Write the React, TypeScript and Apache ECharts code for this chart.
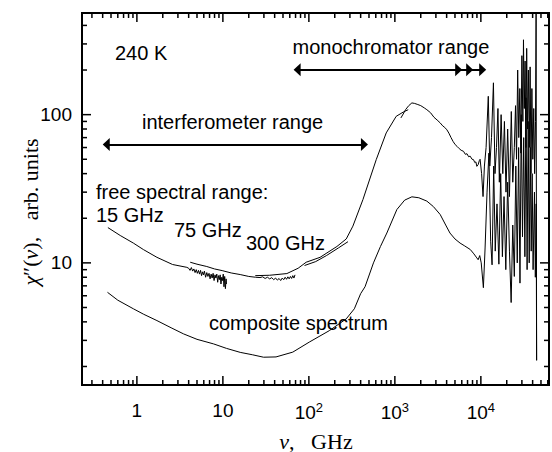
import React, { useEffect, useRef } from 'react';
import * as echarts from 'echarts';

// axis ranges
const X_MIN = 0.23;
const X_MAX = 62000;
const Y_MIN = 1.5;
const Y_MAX = 485;

// tick positions
const X_MAJOR = [1, 10, 100, 1000, 10000];
const X_MINOR = [0.3, 0.4, 0.5, 0.6, 0.7, 0.8, 0.9, 2, 3, 4, 5, 6, 7, 8, 9, 20, 30, 40, 50, 60, 70, 80, 90,
  200, 300, 400, 500, 600, 700, 800, 900, 2000, 3000, 4000, 5000, 6000, 7000, 8000, 9000,
  20000, 30000, 40000, 50000, 60000];
const Y_MAJOR = [10, 100];
const Y_MINOR = [2, 3, 4, 5, 6, 7, 8, 9, 20, 30, 40, 50, 60, 70, 80, 90, 200, 300, 400];

// free spectral range 15 GHz (interferometer)
const fsr15: number[][] = [
  [0.46, 17.3], [0.64, 15.3], [0.91, 13.6], [1.19, 12.3], [1.71, 10.9], [2.6, 9.75], [3.81, 9.33],
  [4.0, 9.2], [4.15, 8.9], [4.3, 9.3], [4.45, 8.8], [4.6, 9.1], [4.75, 8.6], [4.9, 9.0], [5.05, 8.5],
  [5.2, 8.9], [5.35, 8.4], [5.5, 8.9], [5.65, 8.2], [5.8, 8.7], [5.95, 8.3], [6.1, 8.8], [6.3, 8.0],
  [6.5, 8.6], [6.7, 8.1], [6.9, 8.5], [7.1, 7.8], [7.3, 8.4], [7.5, 7.9], [7.7, 8.5], [7.9, 7.6],
  [8.1, 8.3], [8.3, 7.9], [8.5, 8.4], [8.7, 7.4], [8.9, 8.2], [9.1, 7.7], [9.3, 8.3], [9.5, 7.2],
  [9.7, 8.0], [9.9, 7.6], [10.1, 8.4], [10.3, 6.9], [10.5, 8.1], [10.7, 6.7], [10.9, 7.8], [11.0, 7.2],
];

// free spectral range 75 GHz
const fsr75: number[][] = [
  [4.17, 10.1], [5, 9.8], [6.5, 9.45], [8, 9.1], [9.8, 8.87], [12.5, 8.55], [15.9, 8.34], [20, 8.1],
  [24, 8.0], [27, 7.96], [29, 8.05], [31, 7.85], [33, 8.0], [35, 7.8], [37, 7.95], [39, 7.7],
  [41, 7.9], [43, 7.65], [45, 7.85], [47, 7.6], [49, 7.9], [51, 7.7], [53, 8.0], [55, 7.75],
  [57, 8.05], [59, 7.8], [61, 8.1], [63, 7.85], [65, 8.2], [67, 7.9], [69, 8.3],
];

// free spectral range 300 GHz
const fsr300: number[][] = [
  [23.8, 8.2], [35, 8.25], [55.5, 8.47], [75, 9.2], [93, 10.1], [135, 10.9], [212, 12.9],
  [272, 14.5], [325, 17.7], [425, 26.7], [607, 49.7], [793, 75.3], [1036, 97.4], [1250, 104], [1430, 108],
];

// short overlapping segment
const fsrShort: number[][] = [
  [89, 9.6], [120, 10.2], [160, 11.2], [220, 12.6], [285, 13.9],
];

// monochromator part of the 240 K spectrum
const mono: number[][] = [
  [1175, 95], [1250, 101], [1330, 108], [1450, 115], [1577, 120], [1700, 119], [1850, 117], [2000, 115],
  [2200, 111], [2355, 108], [2600, 103], [2850, 96], [3100, 92], [3365, 88], [3600, 84], [3800, 82],
  [4027, 79], [4250, 75], [4500, 70], [4750, 66], [5025, 62.8], [5300, 61], [5600, 59], [5900, 57.5],
  [6280, 56.6], [6600, 54], [6900, 54.5], [7200, 52], [7500, 52.5], [7900, 50], [8210, 49.7],
  [8500, 47.5], [8750, 48], [8980, 44.8], [9300, 46], [9600, 49], [9800, 50], [10200, 40],
  [10600, 28], [11000, 45], [11500, 60], [12200, 133], [12700, 45], [13300, 70], [14000, 164],
  [14600, 40], [15200, 60], [15800, 110], [16400, 35], [17200, 100], [18000, 40], [18800, 90],
  [19600, 30], [20500, 80], [21500, 28], [22600, 105], [23500, 35], [24500, 60], [25300, 115],
  [26000, 50], [26800, 200], [27600, 70], [28400, 150], [29200, 55], [30000, 250], [30800, 90],
  [31300, 320], [32000, 110], [32700, 230], [33400, 60], [34100, 280], [34900, 80], [35700, 200],
  [36600, 60], [37400, 210], [38300, 40], [39200, 150], [40200, 50], [41200, 110], [42200, 40],
  [43200, 90], [43900, 480], [44500, 2.2],
];

// composite spectrum
const composite: number[][] = [
  [0.455, 6.33], [0.6, 5.6], [0.91, 4.9], [1.2, 4.5], [1.71, 4.08], [2.5, 3.65], [3.48, 3.32],
  [5, 3.05], [7.8, 2.84], [11, 2.65], [15.9, 2.49], [22, 2.4], [29.7, 2.31], [41.5, 2.32],
  [65, 2.5], [101, 2.92], [173, 3.49], [272, 4.19], [338, 4.9], [400, 6.2], [450, 6.9],
  [564, 10], [680, 12.9], [807, 15.9], [1055, 22.9], [1300, 26.5], [1577, 27.9], [1900, 27.5],
  [2355, 26.1], [2800, 24], [3365, 21.2], [3900, 18], [4370, 15.9], [5000, 14.5], [5730, 13.6],
  [6500, 13], [7540, 12.3], [8300, 11.5], [8980, 10.8], [9300, 10.5], [9700, 11.2], [10100, 10],
  [10700, 6.8], [11200, 12.6], [11800, 30], [12400, 55], [13000, 14], [13500, 9.7], [14100, 45],
  [14700, 12], [15400, 25], [16200, 9.8], [17000, 40], [17800, 11], [18600, 28], [19500, 9],
  [20500, 35], [21500, 12], [22500, 5.4], [23500, 18], [24500, 8.1], [25500, 45], [26500, 10],
  [27500, 60], [28500, 7.3], [29500, 100], [30500, 15], [31500, 70], [32500, 11], [33500, 130],
  [34500, 9], [35500, 90], [36500, 10], [37500, 60], [38500, 12], [39500, 40], [40500, 9],
  [42000, 30], [43000, 8], [44000, 25], [44500, 2.2],
];

// range arrows (GHz, y level)
const interfArrow = { from: 0.44, to: 443, y: 62.8 };
const monoArrow = { from: 73, heads: [5520, 7410, 10500], y: 201 };

const SANS = '"Liberation Sans", Arial, Helvetica, sans-serif';
const SERIF = '"Liberation Serif", "Times New Roman", serif';

function isDecade(v: number): boolean {
  const e = Math.log10(v);
  return Math.abs(e - Math.round(e)) < 1e-6;
}
function xLabel(v: number): string {
  if (!isDecade(v)) return '';
  const r = Math.round(Math.log10(v));
  if (r <= 1) return String(Math.round(v));
  return '{a|10}{b|' + r + '}';
}
function yLabel(v: number): string {
  if (!isDecade(v)) return '';
  return String(Math.round(v));
}

const xTickData = [...X_MAJOR.map((v) => [v, Y_MIN, 9]), ...X_MINOR.map((v) => [v, Y_MIN, 5])];
const yTickData = [...Y_MAJOR.map((v) => [X_MIN, v, 9]), ...Y_MINOR.map((v) => [X_MIN, v, 5])];

const lineSeries = (data: number[][]) => ({
  type: 'line',
  data,
  showSymbol: false,
  symbol: 'none',
  lineStyle: { color: '#000', width: 1 },
  silent: true,
});

const textEl = (text: string, x: number, y: number) => ({
  type: 'text', x, y, silent: true,
  style: { text, fontSize: 20, fontFamily: SANS, fill: '#000', align: 'left', verticalAlign: 'middle' },
});

export default function App() {
  const ref = useRef<HTMLDivElement>(null);
  useEffect(() => {
    const chart = echarts.init(ref.current!, null, { renderer: 'svg' });
    const option: any = {
      animation: false,
      backgroundColor: '#fff',
      grid: { left: 82, right: 3, top: 13, bottom: 67, show: true, borderColor: '#000', borderWidth: 2 },
      xAxis: {
        type: 'log', logBase: 10, min: X_MIN, max: X_MAX,
        axisLine: { show: true, onZero: false, lineStyle: { color: '#000', width: 2 } },
        axisTick: { show: false },
        splitLine: { show: false },
        axisLabel: {
          show: true, margin: 16, formatter: xLabel, color: '#000', fontSize: 19, fontFamily: SANS,
          showMinLabel: false, showMaxLabel: false,
          rich: {
            a: { fontSize: 19, fontFamily: SANS, color: '#000' },
            b: { fontSize: 13, fontFamily: SANS, color: '#000', padding: [0, 0, 10, 0] },
          },
        },
      },
      yAxis: {
        type: 'log', logBase: 10, min: Y_MIN, max: Y_MAX,
        axisLine: { show: true, onZero: false, lineStyle: { color: '#000', width: 2 } },
        axisTick: { show: false },
        splitLine: { show: false },
        axisLabel: {
          show: true, margin: 10, formatter: yLabel, color: '#000', fontSize: 19, fontFamily: SANS,
          showMinLabel: false, showMaxLabel: false,
        },
      },
      series: [
        lineSeries(fsr15),
        lineSeries(fsr75),
        lineSeries(fsr300),
        lineSeries(fsrShort),
        lineSeries(mono),
        {
          ...lineSeries(composite),
          markLine: {
            silent: true,
            symbol: ['triangle', 'triangle'],
            symbolSize: [13, 7],
            label: { show: false },
            lineStyle: { color: '#000', width: 2, type: 'solid' },
            data: [
              [{ coord: [interfArrow.from, interfArrow.y] }, { coord: [interfArrow.to, interfArrow.y] }],
              [{ coord: [monoArrow.from, monoArrow.y] }, { coord: [monoArrow.heads[0], monoArrow.y] }],
              [{ coord: [monoArrow.heads[0], monoArrow.y], symbol: 'none' }, { coord: [monoArrow.heads[1], monoArrow.y] }],
              [{ coord: [monoArrow.heads[1], monoArrow.y], symbol: 'none' }, { coord: [monoArrow.heads[2], monoArrow.y] }],
            ],
          },
        },
        {
          type: 'custom',
          coordinateSystem: 'cartesian2d',
          data: xTickData,
          renderItem: (params: any, api: any) => {
            const v = api.value(0);
            const len = api.value(2);
            const p0 = api.coord([v, Y_MIN]);
            const p1 = api.coord([v, Y_MAX]);
            return {
              type: 'group',
              children: [
                { type: 'line', shape: { x1: p0[0], y1: p0[1], x2: p0[0], y2: p0[1] - len }, style: { stroke: '#000', lineWidth: 1.5 } },
                { type: 'line', shape: { x1: p1[0], y1: p1[1], x2: p1[0], y2: p1[1] + len }, style: { stroke: '#000', lineWidth: 1.5 } },
              ],
            };
          },
        },
        {
          type: 'custom',
          coordinateSystem: 'cartesian2d',
          data: yTickData,
          renderItem: (params: any, api: any) => {
            const v = api.value(1);
            const len = api.value(2);
            const p0 = api.coord([X_MIN, v]);
            const p1 = api.coord([X_MAX, v]);
            return {
              type: 'group',
              children: [
                { type: 'line', shape: { x1: p0[0], y1: p0[1], x2: p0[0] + len, y2: p0[1] }, style: { stroke: '#000', lineWidth: 1.5 } },
                { type: 'line', shape: { x1: p1[0], y1: p1[1], x2: p1[0] - len, y2: p1[1] }, style: { stroke: '#000', lineWidth: 1.5 } },
              ],
            };
          },
        },
      ],
      graphic: [
        textEl('240 K', 115, 53.4),
        textEl('monochromator range', 292.5, 46.7),
        textEl('interferometer range', 142, 122.4),
        textEl('free spectral range:', 96, 191.7),
        textEl('15 GHz', 96, 215.3),
        textEl('75 GHz', 174, 230),
        textEl('300 GHz', 246, 243.4),
        textEl('composite spectrum', 209, 322.7),
        {
          type: 'text', x: 316, y: 441, silent: true,
          style: {
            text: '{i|ν}{n|,   GHz}', align: 'center', verticalAlign: 'middle', fill: '#000',
            rich: {
              i: { fontSize: 22, fontFamily: SERIF, fontStyle: 'italic', fill: '#000' },
              n: { fontSize: 22, fontFamily: SERIF, fill: '#000' },
            },
          },
        },
        {
          type: 'text', x: 30, y: 212, rotation: Math.PI / 2, silent: true,
          style: {
            text: '{i|χ}{n|″(}{i|ν}{n|),   arb. units}', align: 'center', verticalAlign: 'middle', fill: '#000',
            rich: {
              i: { fontSize: 22, fontFamily: SERIF, fontStyle: 'italic', fill: '#000' },
              n: { fontSize: 22, fontFamily: SERIF, fill: '#000' },
            },
          },
        },
      ],
    };
    chart.setOption(option);
    return () => chart.dispose();
  }, []);
  return (
    <div
      ref={ref}
      style={{ position: 'fixed', left: 0, top: 0, width: 552, height: 452, background: '#fff' }}
    />
  );
}
